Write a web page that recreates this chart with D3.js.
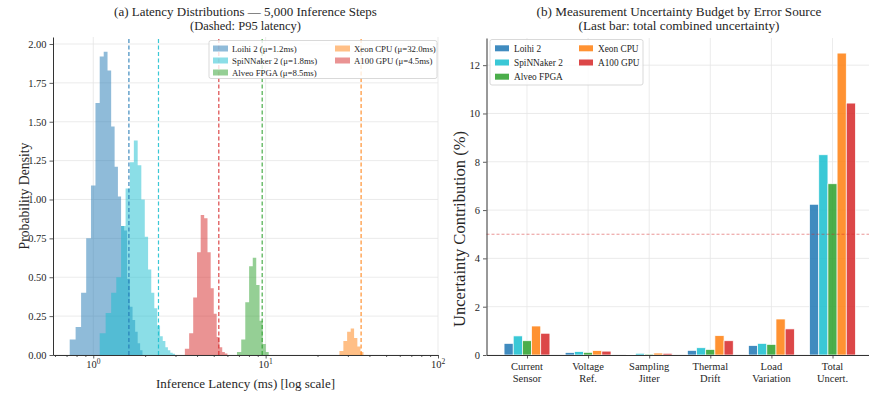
<!DOCTYPE html>
<html><head><meta charset="utf-8">
<script src="https://cdn.jsdelivr.net/npm/d3@7"></script>
<style>
body{margin:0;background:#fff;}
svg text{font-family:"Liberation Serif","Times New Roman",serif;fill:#262626;}
</style>
</head><body>
<svg id="chart" width="869" height="396"></svg>
<script>
// ---------------- DATA ----------------
const devices = ["Loihi 2", "SpiNNaker 2", "Alveo FPGA", "Xeon CPU", "A100 GPU"];
const deviceColors = ["#1f77b4", "#17becf", "#2ca02c", "#ff7f0e", "#d62728"];
const meanLatency = [1.2, 1.8, 8.5, 32.0, 4.5];
const p95Latency = [1.61, 2.39, 9.55, 35.8, 5.35];

// histogram bins (ms): first edge, bin width, density per bin
const binStart = [0.73, 1.09, 6.82, 26.8, 3.4];
const binWidth = [0.06, 0.09, 0.40, 1.45, 0.20];
const densLoihi = [0.10, 0.18, 0.40, 0.75, 1.09, 1.62, 1.92, 1.95, 1.83, 1.47, 1.21, 1.02, 0.83, 0.80, 0.49, 0.31, 0.225, 0.15, 0.075, 0.03];
const densSpiNNaker = [0.14, 0.27, 0.40, 0.50, 0.83, 1.07, 1.24, 1.38, 1.22, 1.00, 0.76, 0.55, 0.40, 0.30, 0.19, 0.12, 0.09, 0.05, 0.03, 0.015, 0.008];
const densAlveo = [0.02, 0.10, 0.34, 0.57, 0.625, 0.45, 0.22, 0.07, 0.02];
const densXeon = [0.025, 0.09, 0.15, 0.17, 0.11, 0.055, 0.02];
const densA100 = [0.04, 0.14, 0.37, 0.66, 0.90, 0.88, 0.66, 0.43, 0.265, 0.115, 0.05, 0.02, 0.01];
const densities = [densLoihi, densSpiNNaker, densAlveo, densXeon, densA100];

const densityTicks = [0, 0.25, 0.5, 0.75, 1.0, 1.25, 1.5, 1.75, 2.0];
const latencyMajorTicks = [1, 10, 100];
const latencyMinorTicks = [0.6, 0.7, 0.8, 0.9, 2, 3, 4, 5, 6, 7, 8, 9, 20, 30, 40, 50, 60, 70, 80, 90];

const errorSources = [["Current", "Sensor"], ["Voltage", "Ref."], ["Sampling", "Jitter"], ["Thermal", "Drift"], ["Load", "Variation"], ["Total", "Uncert."]];
const uncLoihi = [0.48, 0.10, 0.02, 0.19, 0.39, 6.24];
const uncSpiNNaker = [0.79, 0.14, 0.07, 0.30, 0.48, 8.29];
const uncAlveo = [0.59, 0.11, 0.04, 0.23, 0.44, 7.09];
const uncXeon = [1.20, 0.18, 0.08, 0.80, 1.49, 12.5];
const uncA100 = [0.90, 0.16, 0.07, 0.59, 1.08, 10.43];
const uncertainty = [uncLoihi, uncSpiNNaker, uncAlveo, uncXeon, uncA100];
const uncertaintyTicks = [0, 2, 4, 6, 8, 10, 12];
const thresholdPct = 5;

// ---------------- DRAW ----------------
const svg = d3.select("#chart");
const FONT = '"Liberation Serif","Times New Roman",serif';
const gridColor = "#e6e6e6", spineColor = "#333";

function fit(sel, target) {
  const w = sel.node().getComputedTextLength();
  const fs = parseFloat(sel.attr("font-size"));
  if (w > 0) sel.attr("font-size", (fs * target / w).toFixed(2));
  return sel;
}
function styleAxis(g, fs) {
  g.attr("font-family", FONT).attr("font-size", fs);
  g.selectAll("line").attr("stroke", spineColor).attr("stroke-width", 0.8);
  g.selectAll("path.domain").attr("stroke", spineColor).attr("stroke-width", 1);
  g.selectAll("text").attr("fill", "#262626");
}

// ===== Panel (a) =====
const xL = d3.scaleLog().domain([0.584, 100]).range([53, 438]);
const yL = d3.scaleLinear().domain([0, 2.045]).range([355, 37]);
const gA = svg.append("g");

gA.selectAll(".hg").data(densityTicks).join("line")
  .attr("x1", xL.range()[0]).attr("x2", xL.range()[1])
  .attr("y1", d => yL(d)).attr("y2", d => yL(d))
  .attr("stroke", gridColor).attr("stroke-width", 0.8);
gA.selectAll(".vg").data(latencyMajorTicks).join("line")
  .attr("x1", d => xL(d)).attr("x2", d => xL(d))
  .attr("y1", yL.range()[0]).attr("y2", yL.range()[1])
  .attr("stroke", gridColor).attr("stroke-width", 0.8);

const area = d3.area().curve(d3.curveStepAfter)
  .x(d => xL(d.e)).y0(yL(0)).y1(d => yL(d.v));
densities.forEach((dens, i) => {
  const pts = dens.map((v, k) => ({e: binStart[i] + k * binWidth[i], v}));
  pts.push({e: binStart[i] + dens.length * binWidth[i], v: 0});
  gA.append("path").datum(pts).attr("d", area)
    .attr("fill", deviceColors[i]).attr("fill-opacity", 0.5);
});

p95Latency.forEach((p, i) => {
  gA.append("line").attr("x1", xL(p)).attr("x2", xL(p))
    .attr("y1", yL.range()[0]).attr("y2", yL.range()[1])
    .attr("stroke", deviceColors[i]).attr("stroke-width", 1.2)
    .attr("stroke-dasharray", "4,2.5").attr("stroke-opacity", 0.85);
});

const yAxL = gA.append("g").attr("transform", `translate(${xL.range()[0]},0)`)
  .call(d3.axisLeft(yL).tickValues(densityTicks).tickFormat(d3.format(".2f")).tickSize(3.5).tickSizeOuter(0).tickPadding(3));
styleAxis(yAxL, 10.5);
const xAxL = gA.append("g").attr("transform", `translate(0,${yL.range()[0]})`)
  .call(d3.axisBottom(xL).tickValues(latencyMajorTicks).tickFormat("").tickSize(3.5).tickSizeOuter(0));
styleAxis(xAxL, 10);
const xMinL = gA.append("g").attr("transform", `translate(0,${yL.range()[0]})`)
  .call(d3.axisBottom(xL).tickValues(latencyMinorTicks).tickFormat("").tickSize(2));
xMinL.select(".domain").remove();
styleAxis(xMinL, 10);
latencyMajorTicks.forEach(v => {
  const t = gA.append("text").attr("x", xL(v)).attr("y", 368).attr("text-anchor", "middle")
    .attr("font-size", 10.5);
  t.append("tspan").text("10");
  t.append("tspan").attr("dy", -4).attr("font-size", 7.5).text(String(Math.round(Math.log10(v))));
});

fit(gA.append("text").attr("x", 245.5).attr("y", 388).attr("text-anchor", "middle")
  .attr("font-size", 13).text("Inference Latency (ms) [log scale]"), 179);
fit(gA.append("text").attr("transform", "translate(29,196) rotate(-90)").attr("text-anchor", "middle")
  .attr("font-size", 13).text("Probability Density"), 107);
fit(gA.append("text").attr("x", 245.5).attr("y", 16).attr("text-anchor", "middle")
  .attr("font-size", 13).text("(a) Latency Distributions — 5,000 Inference Steps"), 263);
fit(gA.append("text").attr("x", 245.5).attr("y", 30).attr("text-anchor", "middle")
  .attr("font-size", 13).text("(Dashed: P95 latency)"), 111);

const legA = gA.append("g");
legA.append("rect").attr("x", 209).attr("y", 40.5).attr("width", 228).attr("height", 38)
  .attr("rx", 2).attr("fill", "#fff").attr("fill-opacity", 0.8).attr("stroke", "#cfcfcf").attr("stroke-width", 0.8);
devices.forEach((d, i) => {
  const col = i < 3 ? 0 : 1, row = i < 3 ? i : i - 3;
  const px = col ? 335 : 213, ty = 48.5 + row * 12;
  legA.append("rect").attr("x", px).attr("y", ty - 3).attr("width", 15).attr("height", 6)
    .attr("fill", deviceColors[i]).attr("fill-opacity", 0.5);
  legA.append("text").attr("x", px + 19).attr("y", ty + 3).attr("font-size", 8.8)
    .text(`${d} (μ=${meanLatency[i].toFixed(1)}ms)`);
});

// ===== Panel (b) =====
const xR = d3.scaleLinear().domain([-0.6625, 5.6625]).range([486.5, 873]);
const yR = d3.scaleLinear().domain([0, 13.125]).range([355, 38]);
const gB = svg.append("g");

gB.selectAll(".hg").data(uncertaintyTicks).join("line")
  .attr("x1", xR.range()[0]).attr("x2", xR.range()[1])
  .attr("y1", d => yR(d)).attr("y2", d => yR(d))
  .attr("stroke", gridColor).attr("stroke-width", 0.8);
gB.selectAll(".vg").data(errorSources.map((d, i) => i)).join("line")
  .attr("x1", d => xR(d)).attr("x2", d => xR(d))
  .attr("y1", yR.range()[0]).attr("y2", yR.range()[1])
  .attr("stroke", gridColor).attr("stroke-width", 0.8);

const barW = 0.15;
uncertainty.forEach((vals, i) => {
  gB.selectAll(null).data(vals).join("rect")
    .attr("x", (v, c) => xR(c + (i - 2) * barW - barW / 2))
    .attr("width", xR(barW) - xR(0))
    .attr("y", v => yR(v)).attr("height", v => yR(0) - yR(v))
    .attr("fill", deviceColors[i]).attr("fill-opacity", 0.85)
    .attr("stroke", "#fff").attr("stroke-width", 0.7);
});

gB.append("line").attr("x1", xR.range()[0]).attr("x2", xR.range()[1])
  .attr("y1", yR(thresholdPct)).attr("y2", yR(thresholdPct))
  .attr("stroke", "#d62728").attr("stroke-opacity", 0.55).attr("stroke-width", 0.9)
  .attr("stroke-dasharray", "3,2");

const yAxR = gB.append("g").attr("transform", `translate(${xR.range()[0]},0)`)
  .call(d3.axisLeft(yR).tickValues(uncertaintyTicks).tickFormat(d3.format("d")).tickSize(3.5).tickSizeOuter(0).tickPadding(3));
styleAxis(yAxR, 10.5);
const xAxR = gB.append("g").attr("transform", `translate(0,${yR.range()[0]})`)
  .call(d3.axisBottom(xR).tickValues(errorSources.map((d, i) => i)).tickFormat("").tickSize(3.5).tickSizeOuter(0));
styleAxis(xAxR, 10);
errorSources.forEach((lines, c) => {
  const t = gB.append("text").attr("text-anchor", "middle").attr("font-size", 10.5);
  lines.forEach((ln, k) => t.append("tspan").attr("x", xR(c)).attr("y", 370 + k * 12.3).text(ln));
});

fit(gB.append("text").attr("transform", "translate(465,229) rotate(-90)").attr("text-anchor", "middle")
  .attr("font-size", 13).text("Uncertainty Contribution (%)"), 196);
fit(gB.append("text").attr("x", 679).attr("y", 16).attr("text-anchor", "middle")
  .attr("font-size", 13).text("(b) Measurement Uncertainty Budget by Error Source"), 285);
fit(gB.append("text").attr("x", 679).attr("y", 30).attr("text-anchor", "middle")
  .attr("font-size", 13).text("(Last bar: total combined uncertainty)"), 201);

const legB = gB.append("g");
legB.append("rect").attr("x", 490).attr("y", 39.5).attr("width", 153).attr("height", 45.5)
  .attr("rx", 2).attr("fill", "#fff").attr("fill-opacity", 0.8).attr("stroke", "#cfcfcf").attr("stroke-width", 0.8);
devices.forEach((d, i) => {
  const col = i < 3 ? 0 : 1, row = i < 3 ? i : i - 3;
  const px = col ? 579 : 495, ty = 48.3 + row * 14.2;
  legB.append("rect").attr("x", px).attr("y", ty - 3).attr("width", 14).attr("height", 6)
    .attr("fill", deviceColors[i]).attr("fill-opacity", 0.85);
  legB.append("text").attr("x", px + 19).attr("y", ty + 3.3).attr("font-size", 9.3).text(d);
});
</script>
</body></html>
